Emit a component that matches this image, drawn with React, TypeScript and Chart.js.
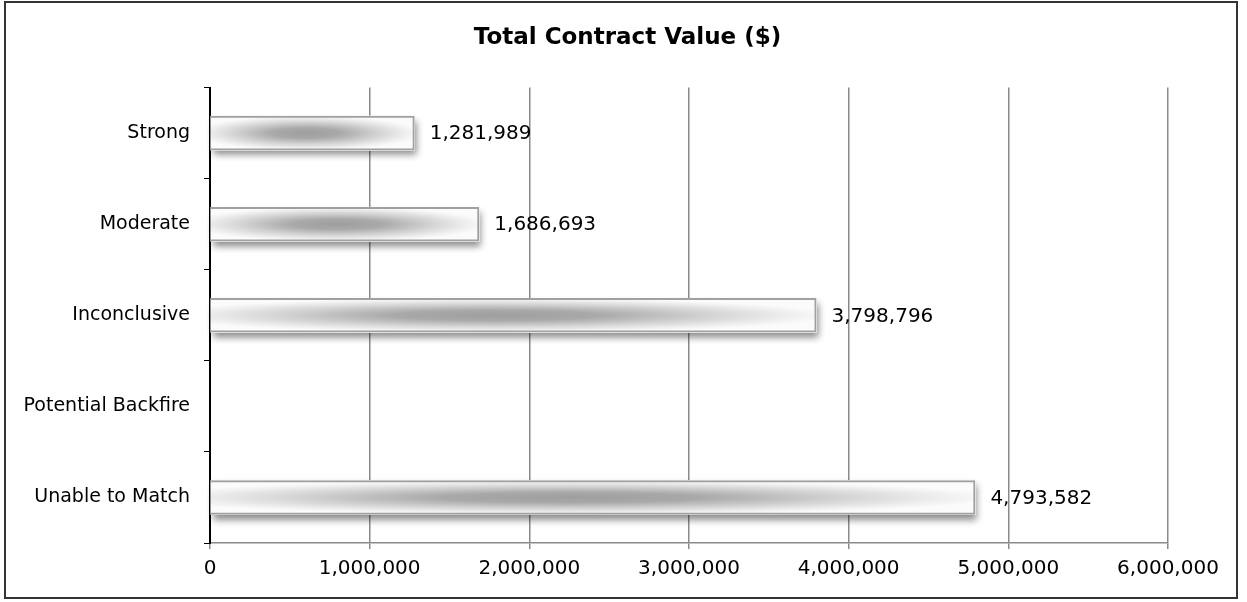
import React, { useEffect, useRef } from "react";
import { Chart, registerables } from "chart.js";

Chart.register(...registerables);

const titleText = "Total Contract Value ($)";
const categories = ["Strong", "Moderate", "Inconclusive", "Potential Backfire", "Unable to Match"];
const contractValues: (number | null)[] = [1281989, 1686693, 3798796, null, 4793582];
const xTickValues = [0, 1000000, 2000000, 3000000, 4000000, 5000000, 6000000];

const FONT = "'DejaVu Sans', sans-serif";

const barStylePlugin = {
  id: "barStyle",
  beforeDatasetsDraw(chart: any) {
    const ctx = chart.ctx;
    const meta = chart.getDatasetMeta(0);
    meta.data.forEach((el: any, i: number) => {
      if (contractValues[i] == null) return;
      const { x, y, base, height } = el.getProps(["x", "y", "base", "height"], true);
      const left = Math.min(x, base);
      const w = Math.abs(x - base);
      const top = y - height / 2;
      // shadow
      ctx.save();
      ctx.shadowColor = "rgba(0,0,0,0.45)";
      ctx.shadowBlur = 7;
      ctx.shadowOffsetX = 2;
      ctx.shadowOffsetY = 5;
      ctx.fillStyle = "#ffffff";
      ctx.fillRect(left, top, w, height);
      ctx.restore();
      // elliptical gradient fill
      ctx.save();
      ctx.fillStyle = "#fbfbfb";
      ctx.fillRect(left, top, w, height);
      const cx = left + 0.47 * w;
      const rx = 0.56 * w;
      const ry = height / 2;
      ctx.translate(cx, y);
      ctx.scale(rx, ry);
      const g = ctx.createRadialGradient(0, 0, 0, 0, 0, 1);
      g.addColorStop(0, "#9e9e9e");
      g.addColorStop(0.3, "#a9a9a9");
      g.addColorStop(0.62, "#d2d2d2");
      g.addColorStop(0.86, "#eeeeee");
      g.addColorStop(1, "#fbfbfb");
      ctx.fillStyle = g;
      ctx.fillRect((left - cx) / rx, -1, w / rx, 2);
      ctx.restore();
    });
  },
  afterDatasetsDraw(chart: any) {
    const ctx = chart.ctx;
    const meta = chart.getDatasetMeta(0);
    ctx.save();
    ctx.font = `20px ${FONT}`;
    ctx.fillStyle = "#000000";
    ctx.textBaseline = "middle";
    ctx.textAlign = "left";
    meta.data.forEach((el: any, i: number) => {
      const v = contractValues[i];
      if (v == null) return;
      const { x, y } = el.getProps(["x", "y"], true);
      ctx.fillText(v.toLocaleString("en-US"), x + 15, y + 1);
    });
    ctx.restore();
  },
};

export default function App() {
  const canvasRef = useRef<HTMLCanvasElement | null>(null);

  useEffect(() => {
    if (!canvasRef.current) return;
    const chart = new Chart(canvasRef.current, {
      type: "bar",
      data: {
        labels: categories,
        datasets: [
          {
            data: contractValues as any,
            xAxisID: "x",
            yAxisID: "y",
            backgroundColor: "rgba(0,0,0,0)",
            borderColor: "#a0a0a0",
            borderWidth: 2,
            barPercentage: 0.38,
            categoryPercentage: 1,
          },
        ],
      },
      options: {
        indexAxis: "y",
        responsive: false,
        animation: false,
        devicePixelRatio: 1,
        layout: { padding: { left: 8, right: 0, top: 0, bottom: 13 } },
        plugins: {
          legend: { display: false },
          tooltip: { enabled: false },
          title: {
            display: true,
            text: titleText,
            color: "#000000",
            font: { family: FONT, size: 23, weight: "bold", lineHeight: 1.2 },
            padding: { top: 24, bottom: 36 },
          },
        },
        scales: {
          x: {
            type: "linear",
            position: "bottom",
            min: 0,
            max: 6000000,
            afterBuildTicks: (scale: any) => {
              scale.ticks = xTickValues.map((v) => ({ value: v }));
            },
            grid: {
              color: "#8a8a8a",
              lineWidth: 1.5,
              tickLength: 6,
              drawOnChartArea: true,
            },
            border: { color: "#8a8a8a", width: 1.5 },
            ticks: {
              color: "#000000",
              padding: 8,
              font: { family: FONT, size: 20 },
              callback: (v: any) => Number(v).toLocaleString("en-US"),
              maxRotation: 0,
            },
          },
          y: {
            type: "category",
            position: "left",
            afterFit: (scale: any) => {
              scale.width = 202;
            },
            grid: {
              display: true,
              drawOnChartArea: false,
              color: "#000000",
              tickLength: 6,
              offset: true,
            },
            border: { color: "#000000", width: 2 },
            ticks: {
              color: "#000000",
              padding: 14,
              font: { family: FONT, size: 19 },
            },
          },
          yRight: {
            type: "category",
            position: "right",
            labels: categories,
            grid: { display: false },
            border: { display: false },
            ticks: { display: false },
            afterFit: (scale: any) => {
              scale.width = 79;
            },
          },
        },
      },
      plugins: [barStylePlugin],
    } as any);
    return () => chart.destroy();
  }, []);

  return (
    <div style={{ position: "absolute", left: 0, top: 0, width: 1247, height: 602, background: "#ffffff" }}>
      <canvas
        ref={canvasRef}
        width={1247}
        height={602}
        style={{ position: "absolute", left: 0, top: 0, width: 1247, height: 602 }}
      />
      <div
        style={{
          position: "absolute",
          left: 4,
          top: 1,
          width: 1234,
          height: 598,
          boxSizing: "border-box",
          border: "2px solid #333333",
          pointerEvents: "none",
        }}
      />
    </div>
  );
}
